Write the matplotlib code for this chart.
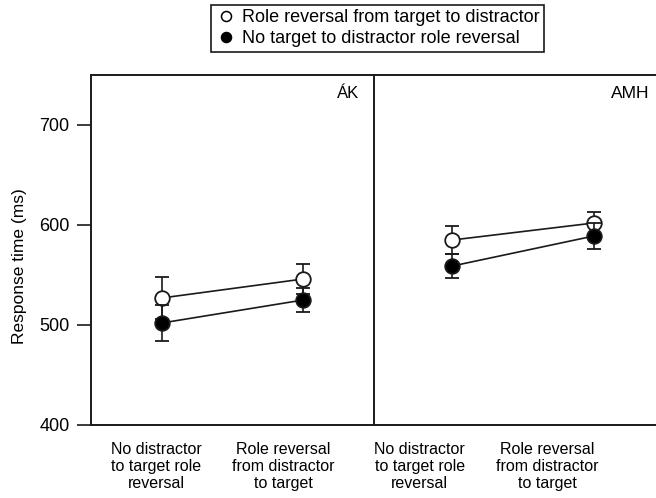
import matplotlib.pyplot as plt
from matplotlib.lines import Line2D

plt.rcParams['font.family'] = ['Liberation Sans', 'DejaVu Sans']
plt.rcParams['font.size'] = 11.5

# Condition labels (x axis) and mean response times with error bars
conditions = ["No distractor\nto target role\nreversal",
              "Role reversal\nfrom distractor\nto target"]
panels = ["ÁK", "AMH"]

ak_reversal = [527, 546]
ak_reversal_err = [21, 15]
ak_no_reversal = [502, 525]
ak_no_reversal_err = [18, 12]

amh_reversal = [585, 602]
amh_reversal_err = [14, 11]
amh_no_reversal = [559, 589]
amh_no_reversal_err = [12, 13]

series_label_open = "Role reversal from target to distractor"
series_label_filled = "No target to distractor role reversal"

fig = plt.figure(figsize=(6.56, 4.98), dpi=100)
ax_l = fig.add_axes([0.1387, 0.1466, 0.4314, 0.7028])
ax_r = fig.add_axes([0.5701, 0.1466, 0.4314, 0.7028], sharey=ax_l)
ax_r.patch.set_visible(False)
ax_l.set_zorder(2)
ax_l.patch.set_visible(False)

line_color = '#1a1a1a'
xpos = [1, 2]

def draw_panel(ax, open_vals, open_err, filled_vals, filled_err, name, xlim, label_x, name_x, name_size):
    ax.errorbar(xpos, open_vals, yerr=open_err, color=line_color, lw=1.2,
                marker='o', ms=10.5, mfc='white', mec=line_color, mew=1.3,
                capsize=5, capthick=1.2, elinewidth=1.2, zorder=3)
    ax.errorbar(xpos, filled_vals, yerr=filled_err, color=line_color, lw=1.2,
                marker='o', ms=10.5, mfc='black', mec=line_color, mew=1.3,
                capsize=5, capthick=1.2, elinewidth=1.2, zorder=4)
    ax.set_xlim(*xlim)
    ax.set_xticks(label_x)
    ax.set_xticklabels(conditions, linespacing=1.2, fontsize=11.5)
    ax.tick_params(axis='x', length=0, pad=12)
    ax.text(name_x, 0.946, name, transform=ax.transAxes, ha='right', va='center',
            fontsize=name_size)
    for s in ax.spines.values():
        s.set_linewidth(1.4)
        s.set_color(line_color)

draw_panel(ax_l, ak_reversal, ak_reversal_err, ak_no_reversal, ak_no_reversal_err,
           panels[0], (0.5, 2.5), [0.96, 1.86], 0.947, 12)
draw_panel(ax_r, amh_reversal, amh_reversal_err, amh_no_reversal, amh_no_reversal_err,
           panels[1], (0.446, 2.446), [0.77, 1.67], 0.975, 12.5)

ax_l.set_ylim(400, 750)
ax_l.set_yticks([400, 500, 600, 700])
ax_l.tick_params(axis='y', length=10, width=1.2, pad=5.5, color=line_color, labelsize=13)
ax_l.set_ylabel("Response time (ms)", fontsize=12.5)
ax_l.yaxis.set_label_coords(-0.226, 0.454)

ax_r.tick_params(axis='y', left=False, labelleft=False)
ax_r.spines['left'].set_visible(False)

handles = [
    Line2D([], [], ls='none', marker='o', ms=7.2, mfc='white', mec='black', mew=1.1),
    Line2D([], [], ls='none', marker='o', ms=7.2, mfc='black', mec='black', mew=1.1),
]
leg = fig.legend(handles, [series_label_open, series_label_filled],
                 loc='upper center', bbox_to_anchor=(0.5755, 0.99),
                 fancybox=False, edgecolor=line_color, framealpha=1, fontsize=13,
                 handlelength=1.2, handletextpad=0.3, borderpad=0.25,
                 labelspacing=0.22, borderaxespad=0)
leg.get_frame().set_linewidth(1.2)

fig.savefig('out.png', dpi=100)
